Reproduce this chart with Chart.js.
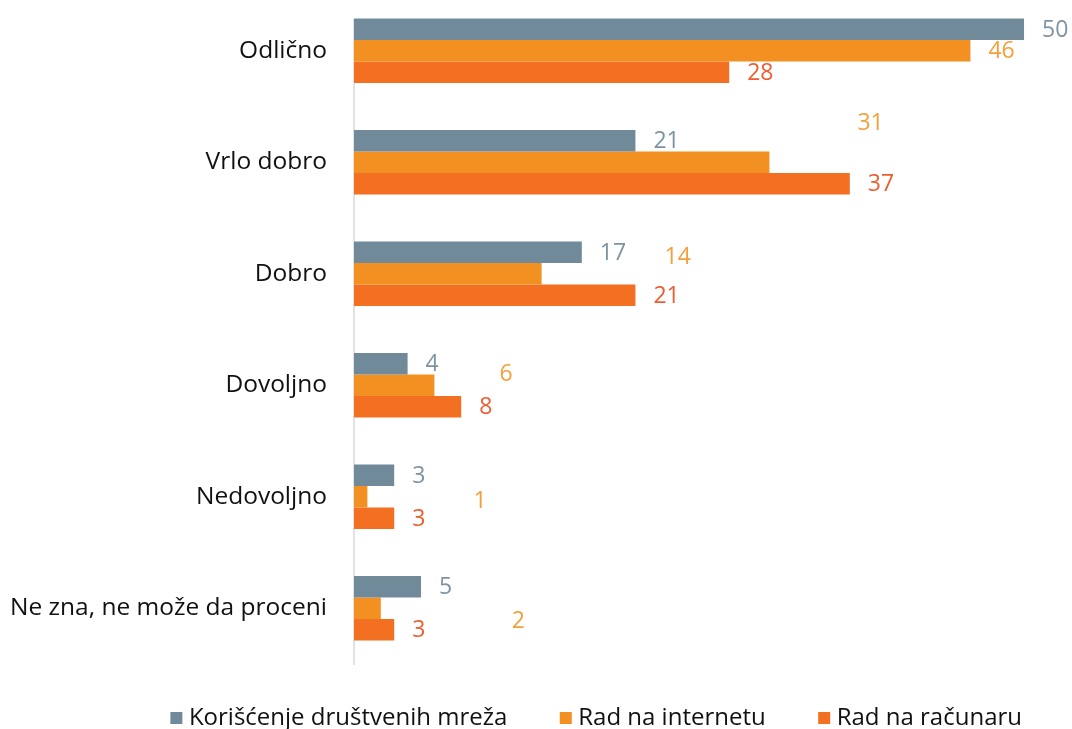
<!DOCTYPE html>
<html>
<head>
<meta charset="utf-8">
<script src="https://cdn.jsdelivr.net/npm/chart.js@4.4.1/dist/chart.umd.min.js"></script>
<style>
  html, body { margin: 0; padding: 0; background: #ffffff; overflow: hidden; width: 1072px; height: 729px; }
  #wrap { position: absolute; left: 0; top: -5px; width: 1072px; height: 761px; }
</style>
</head>
<body>
<div id="wrap"><canvas id="c"></canvas></div>
<script>
const categories = ['Odlično', 'Vrlo dobro', 'Dobro', 'Dovoljno', 'Nedovoljno', 'Ne zna, ne može da proceni'];
const seriesNames = ['Korišćenje društvenih mreža', 'Rad na internetu', 'Rad na računaru'];
const drustveneMreze = [50, 21, 17, 4, 3, 5];
const radNaInternetu = [46, 31, 14, 6, 1, 2];
const radNaRacunaru = [28, 37, 21, 8, 3, 3];

const FONT = "'Open Sans', Lato, 'Liberation Sans', sans-serif";
const barColors = ['#718A99', '#F39022', '#F37022'];
const labelColors = ['#7D93A2', '#F5A03C', '#EF5C2F'];
// per-dataset, per-category label nudges (px) replicating the reference's label placement
const labelNudges = [
  [[0,0],[0,0],[0,0],[0,0],[0,0],[0,0]],
  [[0,0],[70,-40],[105,-17],[47,-12],[88,3.5],[113,12]],
  [[0,0],[0,0],[0,0],[0,0],[0,0],[0,0]]
];

const valueLabels = {
  id: 'valueLabels',
  afterDatasetsDraw(chart) {
    const ctx = chart.ctx;
    ctx.save();
    ctx.font = '23px ' + FONT;
    ctx.textAlign = 'left';
    ctx.textBaseline = 'middle';
    chart.data.datasets.forEach((ds, di) => {
      const meta = chart.getDatasetMeta(di);
      meta.data.forEach((bar, i) => {
        const n = labelNudges[di][i];
        ctx.fillStyle = labelColors[di];
        ctx.fillText(String(ds.data[i]), bar.x + 18 + n[0], bar.y + 1 + n[1]);
      });
    });
    ctx.restore();
  }
};

// value axis baseline (starts at the first bar, as in the reference)
const axisLine = {
  id: 'axisLine',
  beforeDatasetsDraw(chart) {
    const ctx = chart.ctx;
    const a = chart.chartArea;
    const x0 = chart.scales.x.getPixelForValue(0);
    ctx.save();
    ctx.strokeStyle = '#D9D9D9';
    ctx.lineWidth = 1.5;
    ctx.beginPath();
    ctx.moveTo(x0, a.top + 24);
    ctx.lineTo(x0, a.bottom + 1);
    ctx.stroke();
    ctx.restore();
  }
};

// nudge the legend block to the reference position
const legendShift = {
  id: 'legendShift',
  afterLayout(chart) {
    const lg = chart.legend;
    if (!lg) return;
    lg.top -= 16; lg.bottom -= 16;
    lg.left += 8; lg.right += 8;
  }
};

new Chart(document.getElementById('c'), {
  type: 'bar',
  data: {
    labels: categories,
    datasets: [
      { label: seriesNames[0], data: drustveneMreze, backgroundColor: barColors[0] },
      { label: seriesNames[1], data: radNaInternetu, backgroundColor: barColors[1] },
      { label: seriesNames[2], data: radNaRacunaru, backgroundColor: barColors[2] }
    ]
  },
  options: {
    indexAxis: 'y',
    responsive: true,
    maintainAspectRatio: false,
    animation: false,
    categoryPercentage: 0.578,
    barPercentage: 1.0,
    layout: { padding: { left: 0, right: 0, top: 0, bottom: 0 } },
    scales: {
      x: { display: false, min: 0, max: 53.58 },
      y: {
        grid: { display: false, drawTicks: false },
        border: { display: false },
        ticks: { color: '#111111', font: { family: FONT, size: 24.5 }, padding: 27 },
        afterFit(axis) { axis.width = 354; axis.paddingTop = 0; axis.paddingBottom = 0; }
      }
    },
    plugins: {
      legend: {
        position: 'bottom',
        align: 'end',
        labels: {
          usePointStyle: true,
          pointStyle: 'rect',
          boxWidth: 1,
          boxHeight: 12,
          padding: 58,
          color: '#111111',
          font: { family: FONT, size: 24 }
        }
      },
      tooltip: { enabled: false }
    }
  },
  plugins: [valueLabels, axisLine, legendShift]
});
</script>
</body>
</html>
